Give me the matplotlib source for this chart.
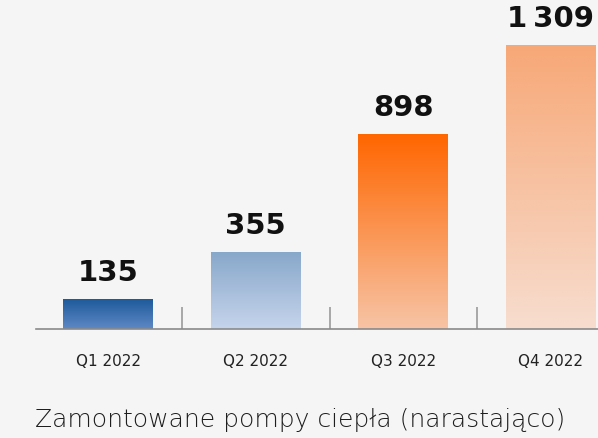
import numpy as np
import matplotlib
matplotlib.use('Agg')
import matplotlib.pyplot as plt
from matplotlib.colors import LinearSegmentedColormap

# data
quarters = ['Q1 2022', 'Q2 2022', 'Q3 2022', 'Q4 2022']
installed = [135, 355, 898, 1309]
value_labels = ['135', '355', '898', '1\u2009309']
title = 'Zamontowane pompy ciepła (narastająco)'

# gradient colours (top, bottom) per bar
grad_colors = [('#1e5a9a', '#5f88c6'),
               ('#88a8ca', '#c6d4ec'),
               ('#ff6600', '#f7c4a6'),
               ('#f7a877', '#f7ddcf')]

bg = '#f5f5f5'
fig = plt.figure(figsize=(5.98, 4.38), dpi=100, facecolor=bg)
ax = fig.add_axes([0.0602, 0.2489, 0.9398, 0.7511])
ax.set_facecolor(bg)

x = np.arange(len(quarters))
width = 0.61

grad = np.linspace(0, 1, 256).reshape(-1, 1)
for xi, v, (top, bot), lab in zip(x, installed, grad_colors, value_labels):
    cmap = LinearSegmentedColormap.from_list('g', [bot, top])
    ax.imshow(grad, cmap=cmap, origin='lower', aspect='auto',
              extent=(xi - width / 2, xi + width / 2, 0, v), zorder=2)
    ax.annotate(lab, (xi, v), xytext=(0, 9), textcoords='offset points',
                ha='center', va='bottom', fontsize=21, fontweight='bold',
                color='#111111', family='DejaVu Sans')

ax.set_xlim(-0.49, 3.32)
ax.set_ylim(0, 1518)

for s in ['top', 'right', 'left']:
    ax.spines[s].set_visible(False)
ax.spines['bottom'].set_color('#8a8a8a')
ax.spines['bottom'].set_linewidth(1.2)

ax.set_yticks([])
ax.set_xticks(x)
ax.set_xticklabels(quarters, fontsize=11, color='#222222')
ax.tick_params(axis='x', which='major', length=0, pad=18)
ax.set_xticks([0.5, 1.5, 2.5], minor=True)
ax.tick_params(axis='x', which='minor', direction='in', length=16,
               width=1.2, color='#9a9a9a')

fig.text(0.058, 0.04, title, fontsize=18, color='#1e1e1e',
         ha='left', va='center', family='DejaVu Sans', fontweight='light')

fig.savefig('out.png', dpi=100, facecolor=bg)
